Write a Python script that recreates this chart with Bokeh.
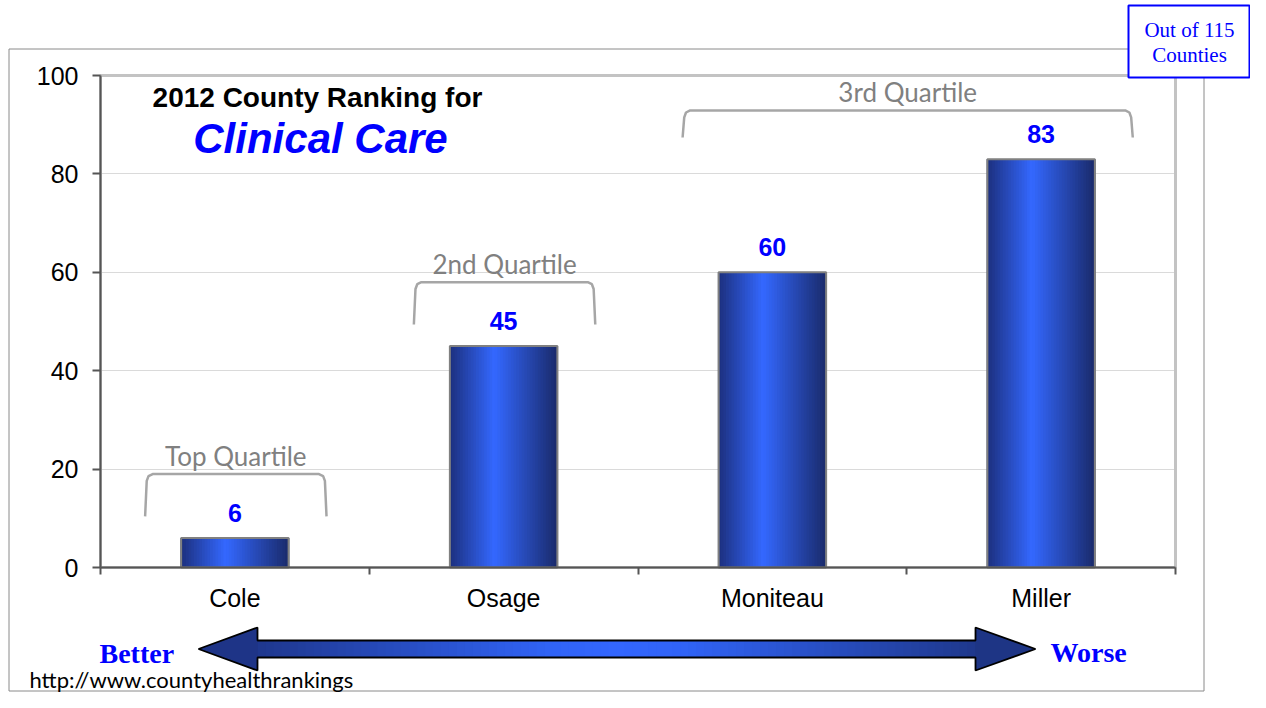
from bokeh.plotting import figure
from bokeh.models import (ColumnDataSource, FixedTicker, Label, LabelSet,
                          BoxAnnotation, PolyAnnotation, Range1d)
from bokeh.core.properties import value
from bokeh.embed import file_html
from bokeh.resources import INLINE

# ---------------- data ----------------
counties = ["Cole", "Osage", "Moniteau", "Miller"]
ranks = [6, 45, 60, 83]
y_ticks = [0, 20, 40, 60, 80, 100]
quartile_labels = ["Top Quartile", "2nd Quartile", "3rd Quartile"]
quartile_first = [0, 1, 2]
quartile_last = [0, 1, 3]
box_line1 = "Out of 115"
box_line2 = "Counties"
title_line1 = "2012 County Ranking for"
title_line2 = "Clinical Care"
better_text = "Better"
worse_text = "Worse"
source_url = "http://www.countyhealthrankings"

# ---------------- helpers ----------------
def hex2rgb(h):
    h = h.lstrip("#")
    return tuple(int(h[i:i + 2], 16) for i in (0, 2, 4))

def grad(stops, t):
    for (t0, c0), (t1, c1) in zip(stops, stops[1:]):
        if t <= t1:
            f = 0 if t1 == t0 else (t - t0) / (t1 - t0)
            a, b = hex2rgb(c0), hex2rgb(c1)
            return "#%02x%02x%02x" % tuple(int(round(a[j] + (b[j] - a[j]) * f)) for j in range(3))
    return stops[-1][1]

bar_stops = [(0.0, "#1c2f7c"), (0.42, "#3468ff"), (1.0, "#1a2b6c")]
arrow_stops = [(0.0, "#1b2e78"), (0.42, "#3063f6"), (0.5, "#3366ff"),
               (0.58, "#3063f6"), (1.0, "#1b2f76")]

# ---------------- layout (canvas pixels) ----------------
W, H = 1250, 692
FL, FR, FT, FB = 100, 1175, 75, 567          # plot area of the chart
ncat = len(counties)
ymax = y_ticks[-1]
kx = (FR - FL) / ncat
ky = (FB - FT) / ymax

p = figure(width=W, height=H,
           x_range=Range1d(-FL / kx, (W - FL) / kx),
           y_range=Range1d(-(H - FB) / ky, FB / ky),
           output_backend="svg", toolbar_location=None,
           min_border=0, min_border_left=0, min_border_right=0,
           min_border_top=0, min_border_bottom=0,
           background_fill_color="white", border_fill_color="white")
p.outline_line_color = None

# plot area frame (light grey)
p.quad(left=[0], right=[ncat], bottom=[0], top=[ymax], fill_color=None,
       line_color="#c3c3c3", line_width=3)

# axes drawn at the data origin
p.yaxis.fixed_location = 0
p.yaxis.bounds = (0, ymax)
p.yaxis.ticker = FixedTicker(ticks=y_ticks)
p.yaxis.major_label_text_font = "Liberation Sans"
p.yaxis.major_label_text_font_size = "25px"
p.yaxis.major_label_text_color = "black"
p.yaxis.major_tick_out = 8
p.yaxis.major_tick_in = 0
p.yaxis.major_label_standoff = 14
p.yaxis.axis_line_color = "#555555"
p.yaxis.axis_line_width = 2
p.yaxis.major_tick_line_color = "#555555"
p.yaxis.major_tick_line_width = 2

centers = [i + 0.5 for i in range(ncat)]
bounds = [float(i) for i in range(ncat + 1)]
p.xaxis.fixed_location = 0
p.xaxis.bounds = (0, ncat)
p.xaxis.ticker = FixedTicker(ticks=centers, minor_ticks=bounds)
p.xaxis.major_label_overrides = {c: n for c, n in zip(centers, counties)}
p.xaxis.major_label_text_font = "Liberation Sans"
p.xaxis.major_label_text_font_size = "25px"
p.xaxis.major_label_text_color = "black"
p.xaxis.major_tick_out = 0
p.xaxis.major_tick_in = 0
p.xaxis.minor_tick_out = 7
p.xaxis.minor_tick_in = 0
p.xaxis.minor_tick_line_color = "#555555"
p.xaxis.minor_tick_line_width = 2
p.xaxis.major_label_standoff = 9
p.xaxis.axis_line_color = "#555555"
p.xaxis.axis_line_width = 2

p.xgrid.grid_line_color = None
p.ygrid.ticker = FixedTicker(ticks=y_ticks[1:-1])
try:
    p.ygrid.cross_bounds = (0, ncat)
    p.ygrid.grid_line_color = "#dadada"
    p.ygrid.grid_line_width = 1
except Exception:
    p.ygrid.grid_line_color = None
    gy = y_ticks[1:-1]
    p.segment(x0=[0] * len(gy), x1=[ncat] * len(gy), y0=gy, y1=gy,
              line_color="#dadada", line_width=1, level="underlay")

# bars with horizontal gradient (vertical strips)
bar_w = 0.4
N = 40
sx, st, sc = [], [], []
for c, r in zip(centers, ranks):
    for k in range(N):
        t = (k + 0.5) / N
        sx.append(c - bar_w / 2 + t * bar_w)
        st.append(r)
        sc.append(grad(bar_stops, t))
p.vbar(x=sx, top=st, bottom=0, width=bar_w / N + 1.4 / kx, fill_color=sc,
       line_color=None)
p.vbar(x=centers, top=ranks, bottom=0, width=bar_w, fill_color=None,
       line_color="#808080", line_width=2)

# value labels
vsrc = ColumnDataSource(dict(x=centers, y=ranks, t=[str(r) for r in ranks]))
p.add_layout(LabelSet(x="x", y="y", text="t", source=vsrc, y_offset=25,
                      text_align="center", text_baseline="middle",
                      text_font=value("Liberation Sans"), text_font_style="bold",
                      text_font_size="25px", text_color="#0000ff"))

# quartile brackets
for lab, a, b in zip(quartile_labels, quartile_first, quartile_last):
    top_val = max(ranks[a:b + 1])
    x0 = centers[a] - 0.328
    x1 = centers[b] + 0.335
    ybot = top_val + 4.4
    ytop = ybot + (8.6 if b == a else 5.5)
    dx, dy = 0.022, 1.4
    xs = [x0 - 0.006, x0, x0 + dx * 0.3, x0 + dx, x1 - dx, x1 - dx * 0.3, x1, x1 + 0.006]
    ys = [ybot, ytop - dy, ytop - dy * 0.3, ytop, ytop, ytop - dy * 0.3, ytop - dy, ybot]
    p.line(xs, ys, line_color="#a6a6a6", line_width=2.5)
    p.add_layout(Label(x=(x0 + x1) / 2, y=ytop, y_offset=18, text=lab,
                       text_align="center", text_baseline="middle",
                       text_font="Lato", text_font_size="26px",
                       text_color="#808080"))

def clabel(x, y, text, **kw):
    p.add_layout(Label(x=x, y=y, x_units="canvas", y_units="canvas", text=text,
                       text_baseline="middle", **kw))

def cbox(l, r, t, b, **kw):
    p.add_layout(BoxAnnotation(left=l, right=r, top=t, bottom=b,
                               left_units="canvas", right_units="canvas",
                               top_units="canvas", bottom_units="canvas", **kw))

# title inside plot
clabel(317, 97, title_line1, text_align="center", text_font="Liberation Sans",
       text_font_style="bold", text_font_size="28px", text_color="black")
clabel(320, 138, title_line2, text_align="center", text_font="Liberation Sans",
       text_font_style="bold italic", text_font_size="42px", text_color="#0000ff")

# outer chart border
cbox(8.5, 1203.5, 48.5, 690.5, fill_alpha=0, line_color="#8a8a8a",
     line_alpha=1, line_width=1)

# double arrow
ax0, ahb0, ahb1, ax1 = 198, 257, 975, 1035
acy, sh_top, sh_bot, hd_top, hd_bot = 648.5, 640, 657, 627, 670
span = ax1 - ax0
M = 90
for k in range(M):
    l = ahb0 + (ahb1 - ahb0) * k / M
    r = ahb0 + (ahb1 - ahb0) * (k + 1) / M + 1.2
    t = ((l + r) / 2 - ax0) / span
    cbox(l, r, sh_top, sh_bot, fill_color=grad(arrow_stops, t), fill_alpha=1,
         line_alpha=0)
p.add_layout(PolyAnnotation(xs=[ax0, ahb0 + 0.5, ahb0 + 0.5], ys=[acy, hd_top, hd_bot],
                            xs_units="canvas", ys_units="canvas",
                            fill_color=grad(arrow_stops, 0.05), fill_alpha=1, line_alpha=0))
p.add_layout(PolyAnnotation(xs=[ax1, ahb1 - 0.5, ahb1 - 0.5], ys=[acy, hd_top, hd_bot],
                            xs_units="canvas", ys_units="canvas",
                            fill_color=grad(arrow_stops, 0.95), fill_alpha=1, line_alpha=0))
p.add_layout(PolyAnnotation(
    xs=[ax0, ahb0, ahb0, ahb1, ahb1, ax1, ahb1, ahb1, ahb0, ahb0],
    ys=[acy, hd_top, sh_top, sh_top, hd_top, acy, hd_bot, sh_bot, sh_bot, hd_bot],
    xs_units="canvas", ys_units="canvas", fill_alpha=0,
    line_color="black", line_alpha=1, line_width=1.8))

clabel(99, 653, better_text, text_align="left", text_font="Liberation Serif",
       text_font_style="bold", text_font_size="28px", text_color="#0000ff")
clabel(1050, 652, worse_text, text_align="left", text_font="Liberation Serif",
       text_font_style="bold", text_font_size="28px", text_color="#0000ff")
clabel(29, 679, source_url, text_align="left", text_font="Lato",
       text_font_size="22px", text_color="black")

# "Out of 115 Counties" box
cbox(1128, 1249, 5, 77, fill_color="white", fill_alpha=1,
     line_color="#0000ff", line_alpha=1, line_width=2)
clabel(1189, 29, box_line1, text_align="center", text_font="Liberation Serif",
       text_font_size="21px", text_color="#0000ff")
clabel(1189, 54, box_line2, text_align="center", text_font="Liberation Serif",
       text_font_size="21px", text_color="#0000ff")

open("out.html", "w").write(file_html(p, INLINE))
